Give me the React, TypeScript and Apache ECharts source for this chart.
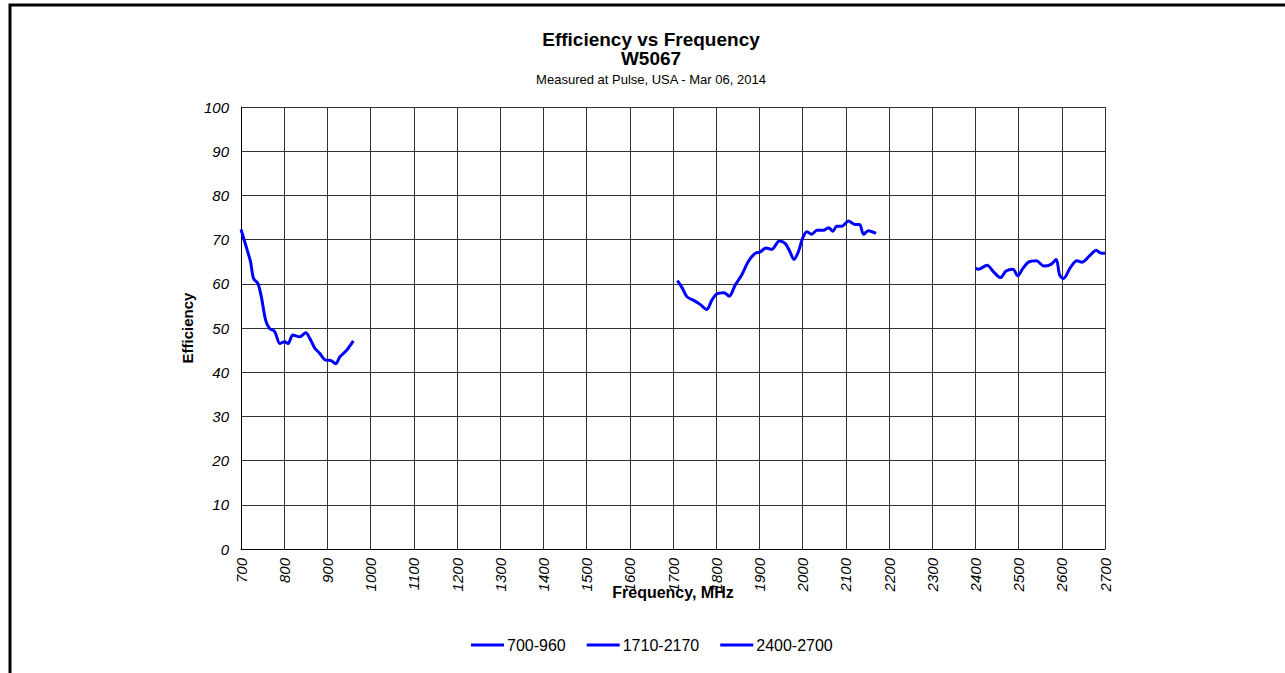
import React, { useEffect, useRef } from "react";
import * as echarts from "echarts";

const FONT = "'Liberation Sans', Arial, Helvetica, sans-serif";

const xTicks = [700, 2700, 100];
const yTicks = [0, 100, 10];

const seriesNames = ["700-960", "1710-2170", "2400-2700"];

const freq1 = [700, 712, 722, 729, 739, 747, 757, 766, 778, 790, 801, 809, 820, 836, 850, 859, 871, 882, 894, 909, 919, 929, 944, 960];
const eff1 = [72.3, 68.4, 65.0, 61.2, 60.1, 57.1, 51.8, 49.9, 49.2, 46.5, 46.9, 46.5, 48.4, 48.0, 48.9, 47.7, 45.4, 44.3, 42.8, 42.6, 41.9, 43.5, 44.9, 47.1];

const freq2 = [1710, 1720, 1732, 1747, 1762, 1778, 1790, 1801, 1818, 1830, 1844, 1859, 1874, 1890, 1902, 1915, 1929, 1946, 1960, 1971, 1980, 1990, 2000, 2010, 2021, 2033, 2048, 2060, 2070, 2079, 2091, 2106, 2122, 2132, 2141, 2152, 2170];
const eff2 = [60.7, 59.3, 57.1, 56.3, 55.4, 54.2, 56.3, 57.7, 58.0, 57.2, 59.7, 62.0, 65.0, 66.9, 67.2, 68.1, 67.8, 69.7, 69.1, 67.2, 65.5, 67.2, 70.3, 71.8, 71.2, 72.1, 72.1, 72.7, 71.9, 73.0, 73.0, 74.2, 73.4, 73.4, 71.2, 72.0, 71.4];

const freq3 = [2400, 2407, 2427, 2442, 2458, 2471, 2487, 2498, 2510, 2523, 2541, 2559, 2575, 2587, 2595, 2604, 2620, 2635, 2647, 2664, 2680, 2689, 2700];
const eff3 = [63.5, 63.3, 64.2, 62.7, 61.4, 62.9, 63.3, 61.8, 63.5, 64.9, 65.2, 64.0, 64.4, 65.5, 62.0, 61.2, 63.7, 65.2, 64.9, 66.3, 67.6, 67.0, 66.9];

const titleLines = ["Efficiency vs Frequency", "W5067", "Measured at Pulse, USA - Mar 06, 2014"];
const xName = "Frequency, MHz";
const yName = "Efficiency";

function pairs(xs: number[], ys: number[]) {
  return xs.map((x, i) => [x, ys[i]]);
}

export default function App() {
  const ref = useRef<HTMLDivElement>(null);
  useEffect(() => {
    if (!ref.current) return;
    const chart = echarts.init(ref.current, null, { renderer: "svg" });
    const data = [pairs(freq1, eff1), pairs(freq2, eff2), pairs(freq3, eff3)];
    chart.setOption({
      animation: false,
      backgroundColor: "#fff",
      textStyle: { fontFamily: FONT },
      grid: { left: 241, right: 180, top: 107, bottom: 124, containLabel: false },
      graphic: [
        {
          type: "rect",
          shape: { x: 10, y: 5, width: 1400, height: 800 },
          style: { fill: "none", stroke: "#000", lineWidth: 3 },
          silent: true,
        },
        {
          type: "text",
          x: 651,
          y: 39,
          style: { text: titleLines[0], font: `bold 19px ${FONT}`, fill: "#000", textAlign: "center", textVerticalAlign: "middle" },
        },
        {
          type: "text",
          x: 651,
          y: 58,
          style: { text: titleLines[1], font: `bold 19px ${FONT}`, fill: "#000", textAlign: "center", textVerticalAlign: "middle" },
        },
        {
          type: "text",
          x: 651,
          y: 79,
          style: { text: titleLines[2], font: `13px ${FONT}`, fill: "#000", textAlign: "center", textVerticalAlign: "middle" },
        },
      ],
      legend: {
        left: 466,
        top: 632,
        icon: "rect",
        itemWidth: 33,
        itemHeight: 3,
        itemGap: 21,
        data: seriesNames,
        textStyle: { fontFamily: FONT, fontSize: 16, color: "#000", padding: [0, 0, 0, -2] },
      },
      xAxis: {
        type: "value",
        min: xTicks[0],
        max: xTicks[1],
        interval: xTicks[2],
        name: xName,
        nameLocation: "middle",
        nameGap: 35,
        nameMoveOverlap: false,
        nameTextStyle: { fontFamily: FONT, fontSize: 16, fontWeight: "bold", color: "#000", backgroundColor: "#fff", padding: [0, 1] },
        axisLine: { show: true, lineStyle: { color: "#000", width: 1 } },
        axisTick: { show: false },
        axisLabel: {
          rotate: 90,
          margin: 9,
          fontSize: 15,
          fontStyle: "italic",
          color: "#000",
          fontFamily: FONT,
          formatter: (v: number) => String(v),
        },
        splitLine: { show: true, lineStyle: { color: "#333", width: 1 } },
      },
      yAxis: {
        type: "value",
        min: yTicks[0],
        max: yTicks[1],
        interval: yTicks[2],
        name: yName,
        nameLocation: "middle",
        nameGap: 46,
        nameRotate: 90,
        nameMoveOverlap: false,
        nameTextStyle: { fontFamily: FONT, fontSize: 15, fontWeight: "bold", color: "#000" },
        axisLine: { show: true, lineStyle: { color: "#000", width: 1 } },
        axisTick: { show: false },
        axisLabel: { margin: 12, fontSize: 15, fontStyle: "italic", color: "#000", fontFamily: FONT, formatter: (v: number) => String(v) },
        splitLine: { show: true, lineStyle: { color: "#333", width: 1 } },
      },
      series: data.map((d, i) => ({
        name: seriesNames[i],
        type: "line",
        data: d,
        smooth: 0.3,
        showSymbol: false,
        symbol: "none",
        lineStyle: { color: "#0000ff", width: 3 },
        itemStyle: { color: "#0000ff" },
      })),
    });
    return () => chart.dispose();
  }, []);
  return <div ref={ref} style={{ position: "absolute", left: 0, top: 0, width: 1285, height: 673 }} />;
}
